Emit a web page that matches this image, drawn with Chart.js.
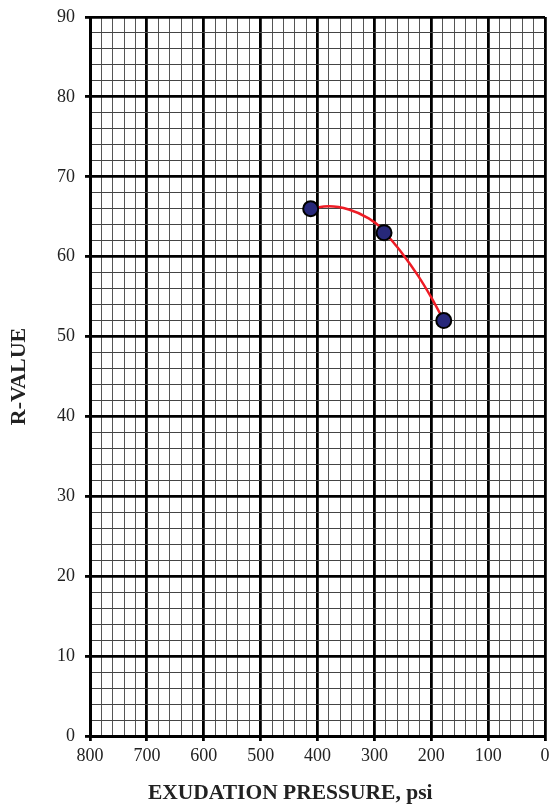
<!DOCTYPE html>
<html>
<head>
<meta charset="utf-8">
<script src="https://cdn.jsdelivr.net/npm/chart.js@4.4.1/dist/chart.umd.min.js"></script>
<style>
  html, body { margin: 0; padding: 0; background: #fff; }
  #wrap { width: 551px; height: 809px; position: relative; }
</style>
</head>
<body>
<div id="wrap"><canvas id="chart"></canvas></div>
<script>
'use strict';

// measured points
const pressure = [412, 283, 178];
const rValue = [66, 63, 52];

// trend curve
const curvePressure = [412, 380, 345, 310, 288, 275, 252, 223, 200, 178];
const curveRValue = [66, 66.3, 65.9, 64.8, 63.6, 62.5, 60.5, 57.6, 54.9, 52];

const xMajor = 100;
const yMajor = 10;
const xTitle = 'EXUDATION PRESSURE, psi';

const serif = '"Liberation Serif", "Times New Roman", serif';

const isMajor = (value, step) => Math.abs(value / step - Math.round(value / step)) < 1e-6;

const points = pressure.map((x, i) => ({ x, y: rValue[i] }));
const curve = curvePressure.map((x, i) => ({ x, y: curveRValue[i] }));

// x title sits a bit left of the plot centre in the original, so draw it by hand
const xTitlePlugin = {
  id: 'xTitle',
  afterDraw(chart) {
    const { ctx, chartArea } = chart;
    ctx.save();
    ctx.font = `bold 21.5px ${serif}`;
    ctx.fillStyle = '#222';
    ctx.textAlign = 'center';
    ctx.textBaseline = 'middle';
    ctx.fillText(xTitle, chartArea.left + chartArea.width * 0.44, chartArea.bottom + 57);
    ctx.restore();
  }
};

new Chart(document.getElementById('chart'), {
  type: 'scatter',
  data: {
    datasets: [
      {
        label: 'Trend',
        data: curve,
        showLine: true,
        borderColor: '#ee1c25',
        borderWidth: 2.5,
        pointRadius: 0,
        cubicInterpolationMode: 'monotone',
        order: 2
      },
      {
        label: 'R-Value',
        data: points,
        pointRadius: 7.5,
        pointBackgroundColor: '#27287a',
        pointBorderColor: '#000',
        pointBorderWidth: 2,
        order: 1
      }
    ]
  },
  plugins: [xTitlePlugin],
  options: {
    responsive: true,
    maintainAspectRatio: false,
    animation: false,
    layout: { autoPadding: false, padding: { top: 17, right: 6, left: 0, bottom: 0 } },
    plugins: { legend: { display: false }, tooltip: { enabled: false } },
    scales: {
      x: {
        type: 'linear',
        reverse: true,
        min: 0,
        max: 800,
        border: { display: true, color: '#000', width: 3 },
        grid: {
          color: (ctx) => isMajor(ctx.tick.value, xMajor) ? '#000' : '#555',
          lineWidth: (ctx) => isMajor(ctx.tick.value, xMajor) ? 2.8 : 1,
          tickColor: (ctx) => isMajor(ctx.tick.value, xMajor) ? '#000' : 'rgba(0,0,0,0)',
          tickWidth: 2.8,
          tickLength: 5
        },
        ticks: {
          stepSize: 20,
          autoSkip: false,
          maxRotation: 0,
          padding: 4,
          color: '#222',
          font: { family: serif, size: 18 },
          callback: (value) => isMajor(value, xMajor) ? String(value) : ''
        },
        afterFit: (scale) => {
          scale.height = 73;
          scale.paddingLeft = 0;
          scale.paddingRight = 0;
        }
      },
      y: {
        type: 'linear',
        min: 0,
        max: 90,
        border: { display: true, color: '#000', width: 3 },
        grid: {
          color: (ctx) => isMajor(ctx.tick.value, yMajor) ? '#000' : '#444',
          lineWidth: (ctx) => isMajor(ctx.tick.value, yMajor) ? 2.8 : 1,
          tickColor: (ctx) => isMajor(ctx.tick.value, yMajor) ? '#000' : 'rgba(0,0,0,0)',
          tickWidth: 2.8,
          tickLength: 5
        },
        ticks: {
          stepSize: 2,
          autoSkip: false,
          padding: 10,
          color: '#222',
          font: { family: serif, size: 18 },
          callback: (value) => isMajor(value, yMajor) ? String(value) : ''
        },
        title: {
          display: true,
          text: 'R-VALUE',
          color: '#222',
          font: { family: serif, size: 22, weight: 'bold' },
          padding: { top: 6, bottom: 6 }
        },
        afterFit: (scale) => {
          scale.width = 90;
          scale.paddingTop = 0;
          scale.paddingBottom = 0;
        }
      }
    }
  }
});
</script>
</body>
</html>
